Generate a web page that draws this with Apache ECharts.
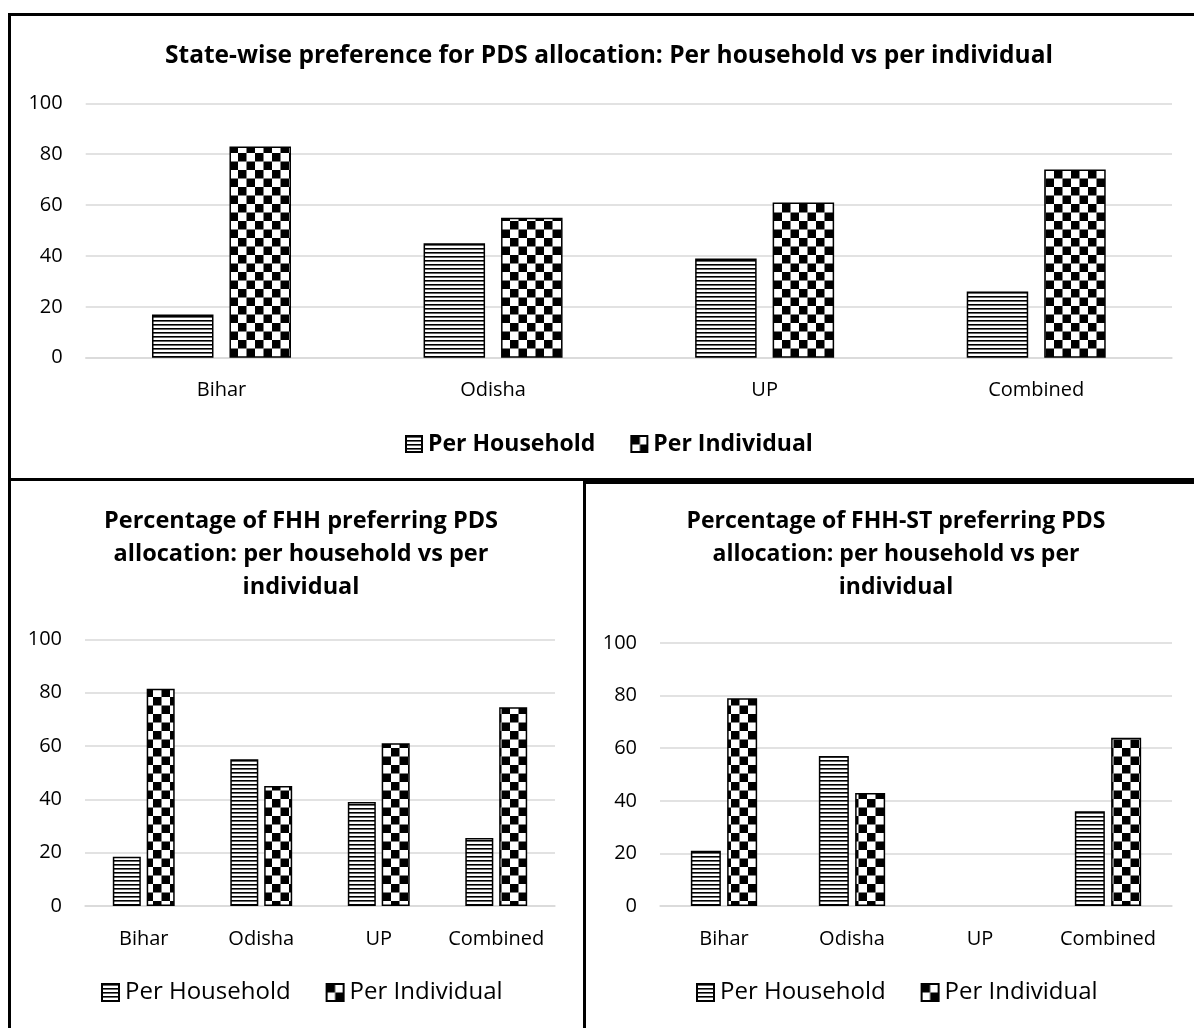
<!DOCTYPE html>
<html>
<head>
<meta charset="utf-8">
<script src="https://cdn.jsdelivr.net/npm/echarts@6/dist/echarts.min.js"></script>
<style>
  html, body { margin: 0; padding: 0; width: 1194px; height: 1028px; overflow: hidden; background: #fff; }
  #chart { position: absolute; left: 0; top: 0; width: 1194px; height: 1028px; }
  .frame { position: absolute; box-sizing: border-box; border: 3px solid #000; pointer-events: none; }
</style>
</head>
<body>
<div id="chart"></div>
<div class="frame" style="left:8px;top:13px;width:1200px;height:468px;"></div>
<div class="frame" style="left:8px;top:478px;width:578px;height:600px;"></div>
<div class="frame" style="left:583px;top:481px;width:620px;height:600px;"></div>
<script>
// Categories and preference shares (%)
const categories = ['Bihar', 'Odisha', 'UP', 'Combined'];
const stateHousehold = [17, 45, 39, 26];
const stateIndividual = [83, 55, 61, 74];
const fhhHousehold = [18.5, 55, 39, 25.5];
const fhhIndividual = [81.5, 45, 61, 74.5];
const fhhStHousehold = [21, 57, null, 36];
const fhhStIndividual = [79, 43, null, 64];
const seriesNames = ['Per Household', 'Per Individual'];
const yMin = 0, yMax = 100, yStep = 20;

const titles = [
  'State-wise preference for PDS allocation: Per household vs per individual',
  'Percentage of FHH preferring PDS\nallocation: per household vs per\nindividual',
  'Percentage of FHH-ST preferring PDS\nallocation: per household vs per\nindividual'
];

// Fill patterns: horizontal stripes and a checkerboard
function stripePattern() {
  const c = document.createElement('canvas');
  c.width = 4; c.height = 4;
  const g = c.getContext('2d');
  g.fillStyle = '#fff'; g.fillRect(0, 0, 4, 4);
  g.fillStyle = '#000'; g.fillRect(0, 0, 4, 1);
  g.fillStyle = '#666'; g.fillRect(0, 1, 4, 1);
  return { image: c, repeat: 'repeat' };
}
function checkerPattern() {
  const c = document.createElement('canvas');
  const s = 8.5;
  c.width = 17; c.height = 17;
  const g = c.getContext('2d');
  g.fillStyle = '#fff'; g.fillRect(0, 0, 17, 17);
  g.fillStyle = '#000';
  g.fillRect(0, 0, s, s);
  g.fillRect(s, s, s, s);
  return { image: c, repeat: 'repeat' };
}
const stripes = stripePattern();
const checker = checkerPattern();

const FONT = 'Open Sans';

const grids = [
  { left: 85.7, top: 103.3, width: 1086.3, height: 254.4 },
  { left: 85, top: 639.3, width: 470, height: 266.7 },
  { left: 660, top: 643, width: 512, height: 263 }
];
const barSizes = [
  { w: 61.5, gap: '26%' },
  { w: 28, gap: '21%' },
  { w: 30, gap: '21%' }
];
const dataSets = [
  [stateHousehold, stateIndividual],
  [fhhHousehold, fhhIndividual],
  [fhhStHousehold, fhhStIndividual]
];

const xAxis = grids.map((g, i) => ({
  type: 'category', gridIndex: i, data: categories,
  axisLine: { lineStyle: { color: '#d9d9d9', width: 1.5 } },
  axisTick: { show: false },
  axisLabel: { color: '#000', fontFamily: FONT, fontSize: 20, margin: 23, interval: 0 }
}));
const yAxis = grids.map((g, i) => ({
  type: 'value', gridIndex: i, min: yMin, max: yMax, interval: yStep,
  axisLine: { show: false }, axisTick: { show: false },
  splitLine: { lineStyle: { color: '#d9d9d9', width: 1.5 } },
  axisLabel: { color: '#000', fontFamily: FONT, fontSize: 20, margin: 23 }
}));

const series = [];
dataSets.forEach((pair, i) => {
  pair.forEach((vals, k) => {
    series.push({
      type: 'bar', name: seriesNames[k], xAxisIndex: i, yAxisIndex: i,
      data: vals, barWidth: barSizes[i].w, barGap: barSizes[i].gap,
      itemStyle: { color: k === 0 ? stripes : checker, borderColor: '#000', borderWidth: 1.5 },
      emphasis: { disabled: true }
    });
  });
});

const option = {
  animation: false,
  title: [
    { text: titles[0], left: 604, top: 35, textAlign: 'center',
      textStyle: { fontFamily: FONT, fontWeight: 'bold', fontSize: 24.5, lineHeight: 32, color: '#000' } },
    { text: titles[1], left: 296, top: 500, textAlign: 'center',
      textStyle: { fontFamily: FONT, fontWeight: 'bold', fontSize: 23.5, lineHeight: 33, color: '#000' } },
    { text: titles[2], left: 891, top: 500, textAlign: 'center',
      textStyle: { fontFamily: FONT, fontWeight: 'bold', fontSize: 23, lineHeight: 33, color: '#000' } }
  ],
  legend: [
    { data: seriesNames, left: 405, top: 431, padding: 0, itemGap: 35, itemWidth: 16, itemHeight: 16,
      icon: 'rect', selectedMode: false,
      textStyle: { fontFamily: FONT, fontWeight: 'bold', fontSize: 23, lineHeight: 26, color: '#000', padding: [0, 0, 0, 1] } },
    { data: seriesNames, left: 101, top: 979, padding: 0, itemGap: 35, itemWidth: 17, itemHeight: 17,
      icon: 'rect', selectedMode: false,
      textStyle: { fontFamily: FONT, fontSize: 24, lineHeight: 27, color: '#000', padding: [0, 0, 0, 1] } },
    { data: seriesNames, left: 696, top: 979, padding: 0, itemGap: 35, itemWidth: 17, itemHeight: 17,
      icon: 'rect', selectedMode: false,
      textStyle: { fontFamily: FONT, fontSize: 24, lineHeight: 27, color: '#000', padding: [0, 0, 0, 1] } }
  ],
  grid: grids.map(g => Object.assign({ containLabel: false }, g)),
  xAxis: xAxis,
  yAxis: yAxis,
  series: series
};

const chart = echarts.init(document.getElementById('chart'), null, { renderer: 'canvas' });
chart.setOption(option);
</script>
</body>
</html>
